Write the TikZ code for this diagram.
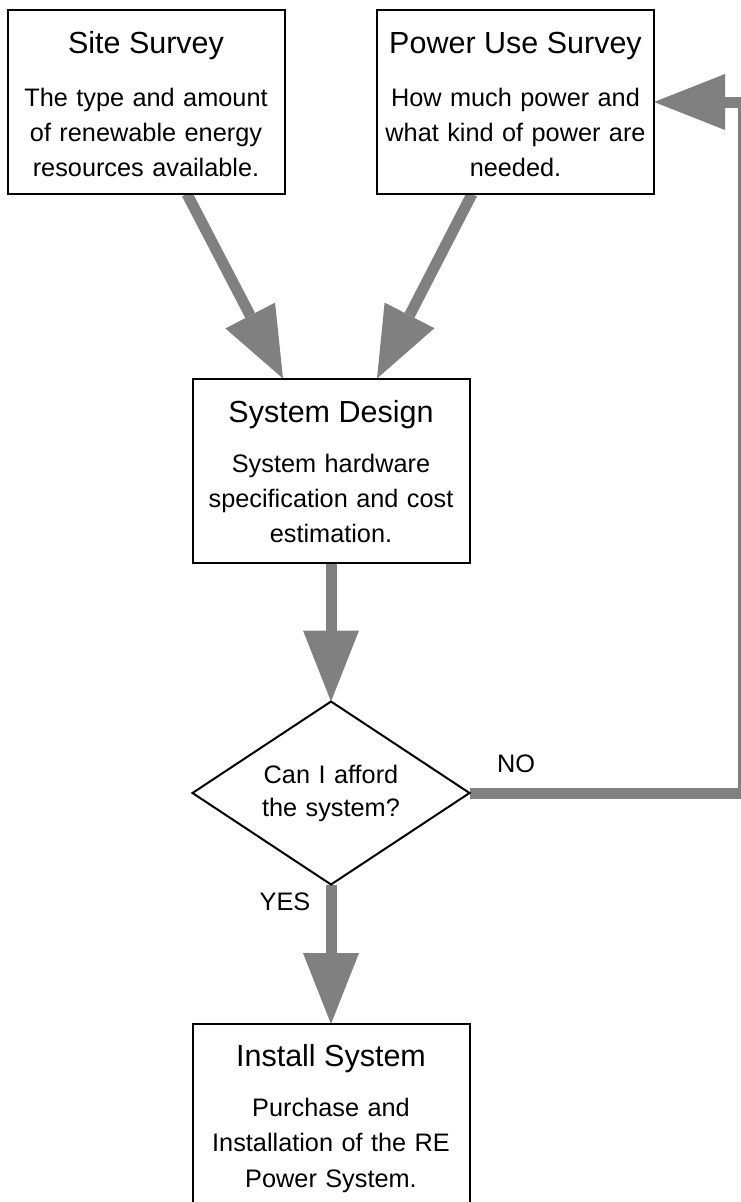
\documentclass[tikz,border=0pt]{standalone}
\usepackage{fontspec}
\setmainfont{Liberation Sans}
\usetikzlibrary{arrows.meta,shapes.geometric}
\definecolor{flowgray}{HTML}{808080}
\pgfdeclarelayer{bg}
\pgfsetlayers{bg,main}
\begin{document}
\begin{tikzpicture}[x=1pt,y=-1pt,
  box/.style={draw=black,line width=2pt,fill=white,minimum width=277pt,minimum height=184pt,inner sep=0pt,outer sep=0pt},
  ttl/.style={font=\fontsize{30.5}{36}\selectfont,anchor=base,inner sep=0pt},
  bdy/.style={font=\fontsize{25.3}{35.3}\selectfont,anchor=base,inner sep=0pt,text width=270pt,align=center},
  decision/.style={draw=black,line width=2pt,fill=white,diamond,aspect=1.5,minimum width=277pt,minimum height=183pt,inner sep=0pt,outer sep=0pt,text width=140pt,align=center,font=\fontsize{25.3}{33}\selectfont},
  flow/.style={draw=flowgray,line width=11pt,-{Triangle[length=71pt,width=56pt,line width=0pt]}},
  lbl/.style={font=\fontsize{25.3}{30}\selectfont,anchor=base,inner sep=0pt}]
\clip (0,0) rectangle (741,1202);
% boxes
\node[box] (site) at (146,102) {};
\node[ttl] (site-t) at (146,53) {Site Survey};
\node[bdy] (site-b) at (146,106) {The type and amount\\of renewable energy\\resources available.};
\node[box] (power) at (515.5,102) {};
\node[ttl] (power-t) at (515.5,53) {Power Use Survey};
\node[bdy] (power-b) at (515.5,106) {How much power and\\what kind of power are\\needed.};
\node[box] (design) at (331,470.5) {};
\node[ttl] (design-t) at (331,422) {System Design};
\node[bdy] (design-b) at (331,472) {System hardware\\specification and cost\\estimation.};
\node[decision] (dec) at (331,793) {Can I afford\\the system?};
\node[box,minimum height=185pt] (install) at (331,1116.5) {};
\node[ttl] (install-t) at (331,1066.5) {Install System};
\node[bdy] (install-b) at (331,1116.5) {Purchase and\\Installation of the RE\\Power System.};
% labels
\node[lbl] (no) at (516,772) {NO};
\node[lbl] (yes) at (285,910) {YES};
% connectors
\coordinate (turn) at (743,793);
\begin{pgfonlayer}{bg}
\draw[flow] ([xshift=41pt]site.south) -- ([xshift=-48pt]design.north);
\draw[flow] ([xshift=-43.5pt]power.south) -- ([xshift=46pt]design.north);
\draw[flow] (design.south) -- (dec.north);
\draw[flow] (dec.south) -- (install.north);
\draw[flow] (dec.east) -- (turn) |- (power.east);
\end{pgfonlayer}
\end{tikzpicture}
\end{document}
